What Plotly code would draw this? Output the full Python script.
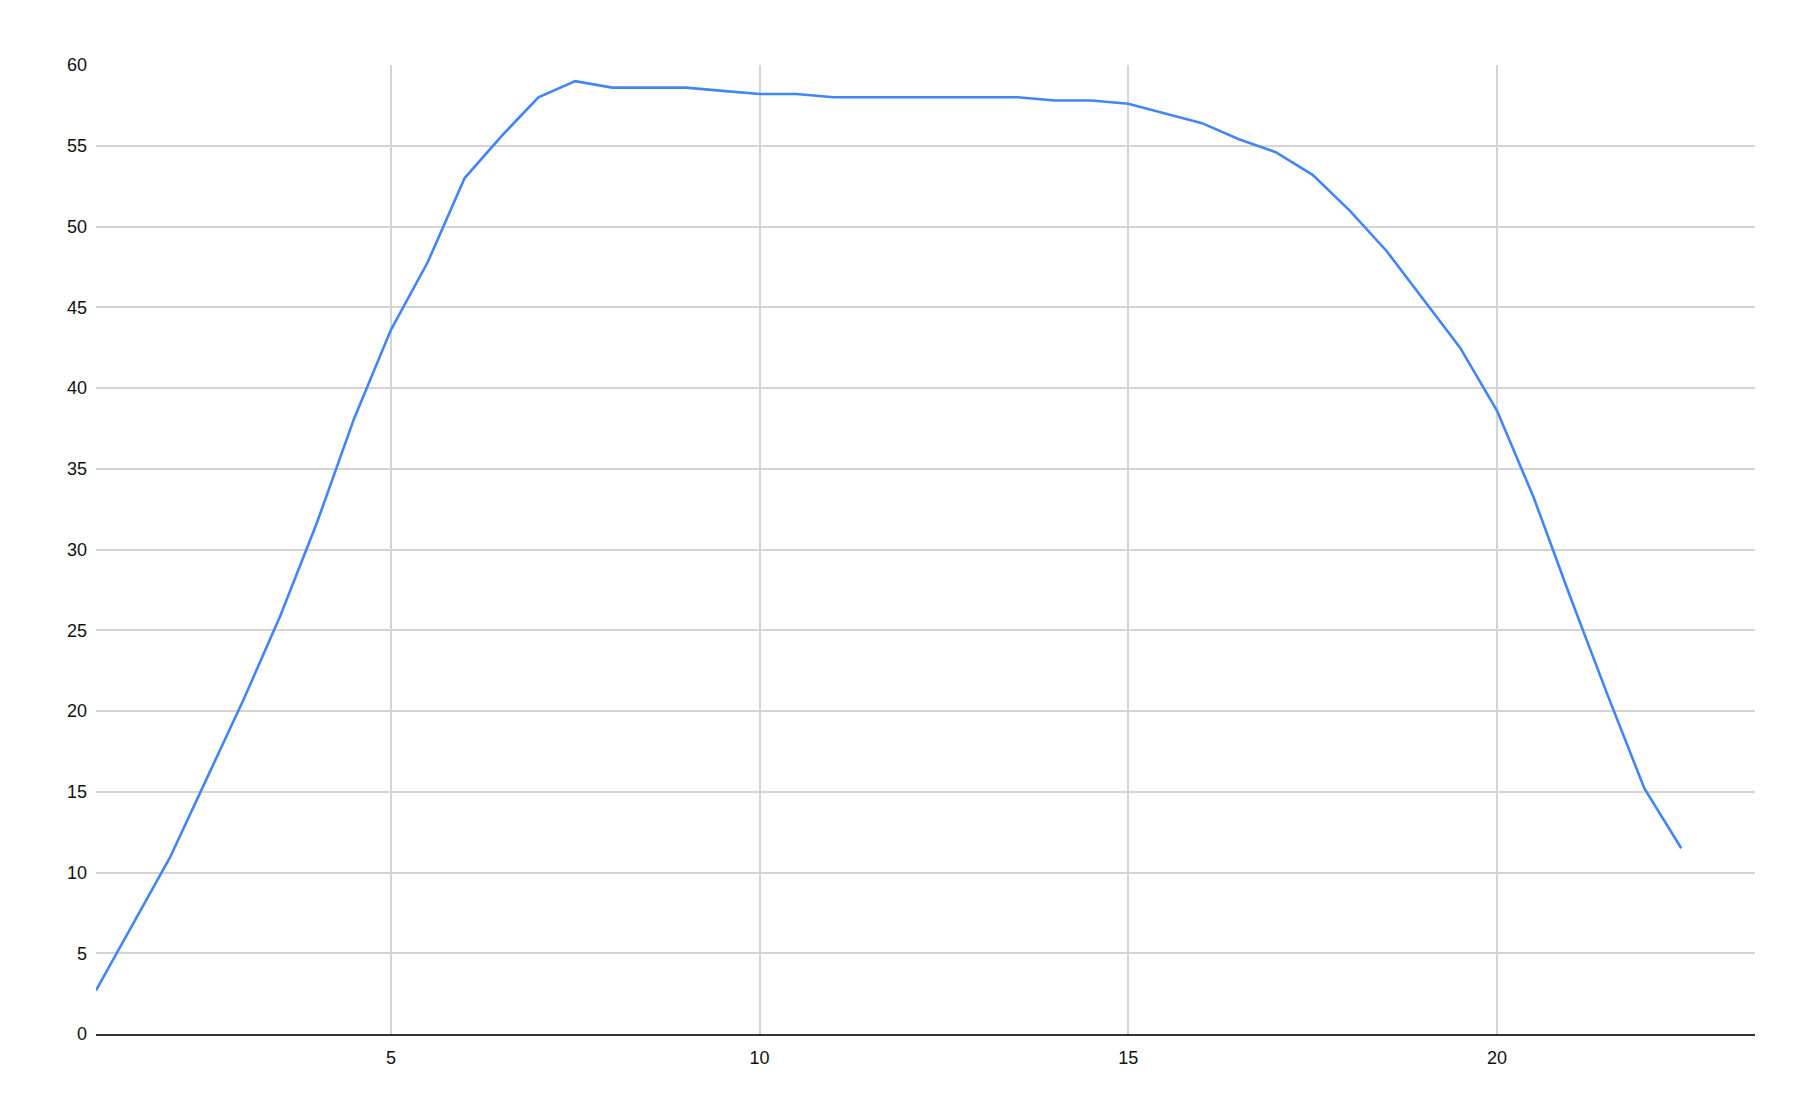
import plotly.graph_objects as go

x_values = [1, 1.5, 2, 2.5, 3, 3.5, 4, 4.5, 5, 5.5, 6, 6.5, 7, 7.5, 8, 8.5, 9, 9.5,
            10, 10.5, 11, 11.5, 12, 12.5, 13, 13.5, 14, 14.5, 15, 15.5, 16, 16.5,
            17, 17.5, 18, 18.5, 19, 19.5, 20, 20.5, 21, 21.5, 22, 22.5]
y_values = [2.7, 6.8, 10.9, 15.8, 20.7, 25.9, 31.7, 38.1, 43.6, 47.8, 53.0, 55.6,
            58.0, 59.0, 58.6, 58.6, 58.6, 58.4, 58.2, 58.2, 58.0, 58.0, 58.0, 58.0,
            58.0, 58.0, 57.8, 57.8, 57.6, 57.0, 56.4, 55.4, 54.6, 53.2, 51.0, 48.5,
            45.5, 42.5, 38.6, 33.2, 27.0, 21.0, 15.2, 11.5]

x_ticks = [5, 10, 15, 20]
y_ticks = [0, 5, 10, 15, 20, 25, 30, 35, 40, 45, 50, 55, 60]

fig = go.Figure()
fig.add_trace(go.Scatter(
    x=x_values, y=y_values, mode="lines",
    line=dict(color="#4285F4", width=2.6),
    showlegend=False, hoverinfo="skip",
))

fig.update_layout(
    width=1804, height=1112,
    margin=dict(l=96, r=49, t=65, b=78),
    paper_bgcolor="white", plot_bgcolor="white",
    font=dict(family="Liberation Sans, Arial, sans-serif", size=18, color="#111111"),
)
fig.update_xaxes(
    range=[1, 23.5], tickvals=x_ticks, ticktext=[str(v) for v in x_ticks],
    showgrid=True, gridcolor="#d4d4d4", gridwidth=1.5,
    showline=True, linecolor="#333333", linewidth=2,
    zeroline=False, ticks="", ticklabelstandoff=6,
)
fig.update_yaxes(
    range=[0, 60], tickvals=y_ticks, ticktext=[str(v) for v in y_ticks],
    showgrid=True, gridcolor="#d4d4d4", gridwidth=1.5,
    showline=False, zeroline=False, ticks="", ticklabelstandoff=8,
)

fig.write_html(
    "out.html",
    config={"displayModeBar": False},
    post_script="document.body.style.margin='0px';document.body.style.overflow='hidden';",
)
